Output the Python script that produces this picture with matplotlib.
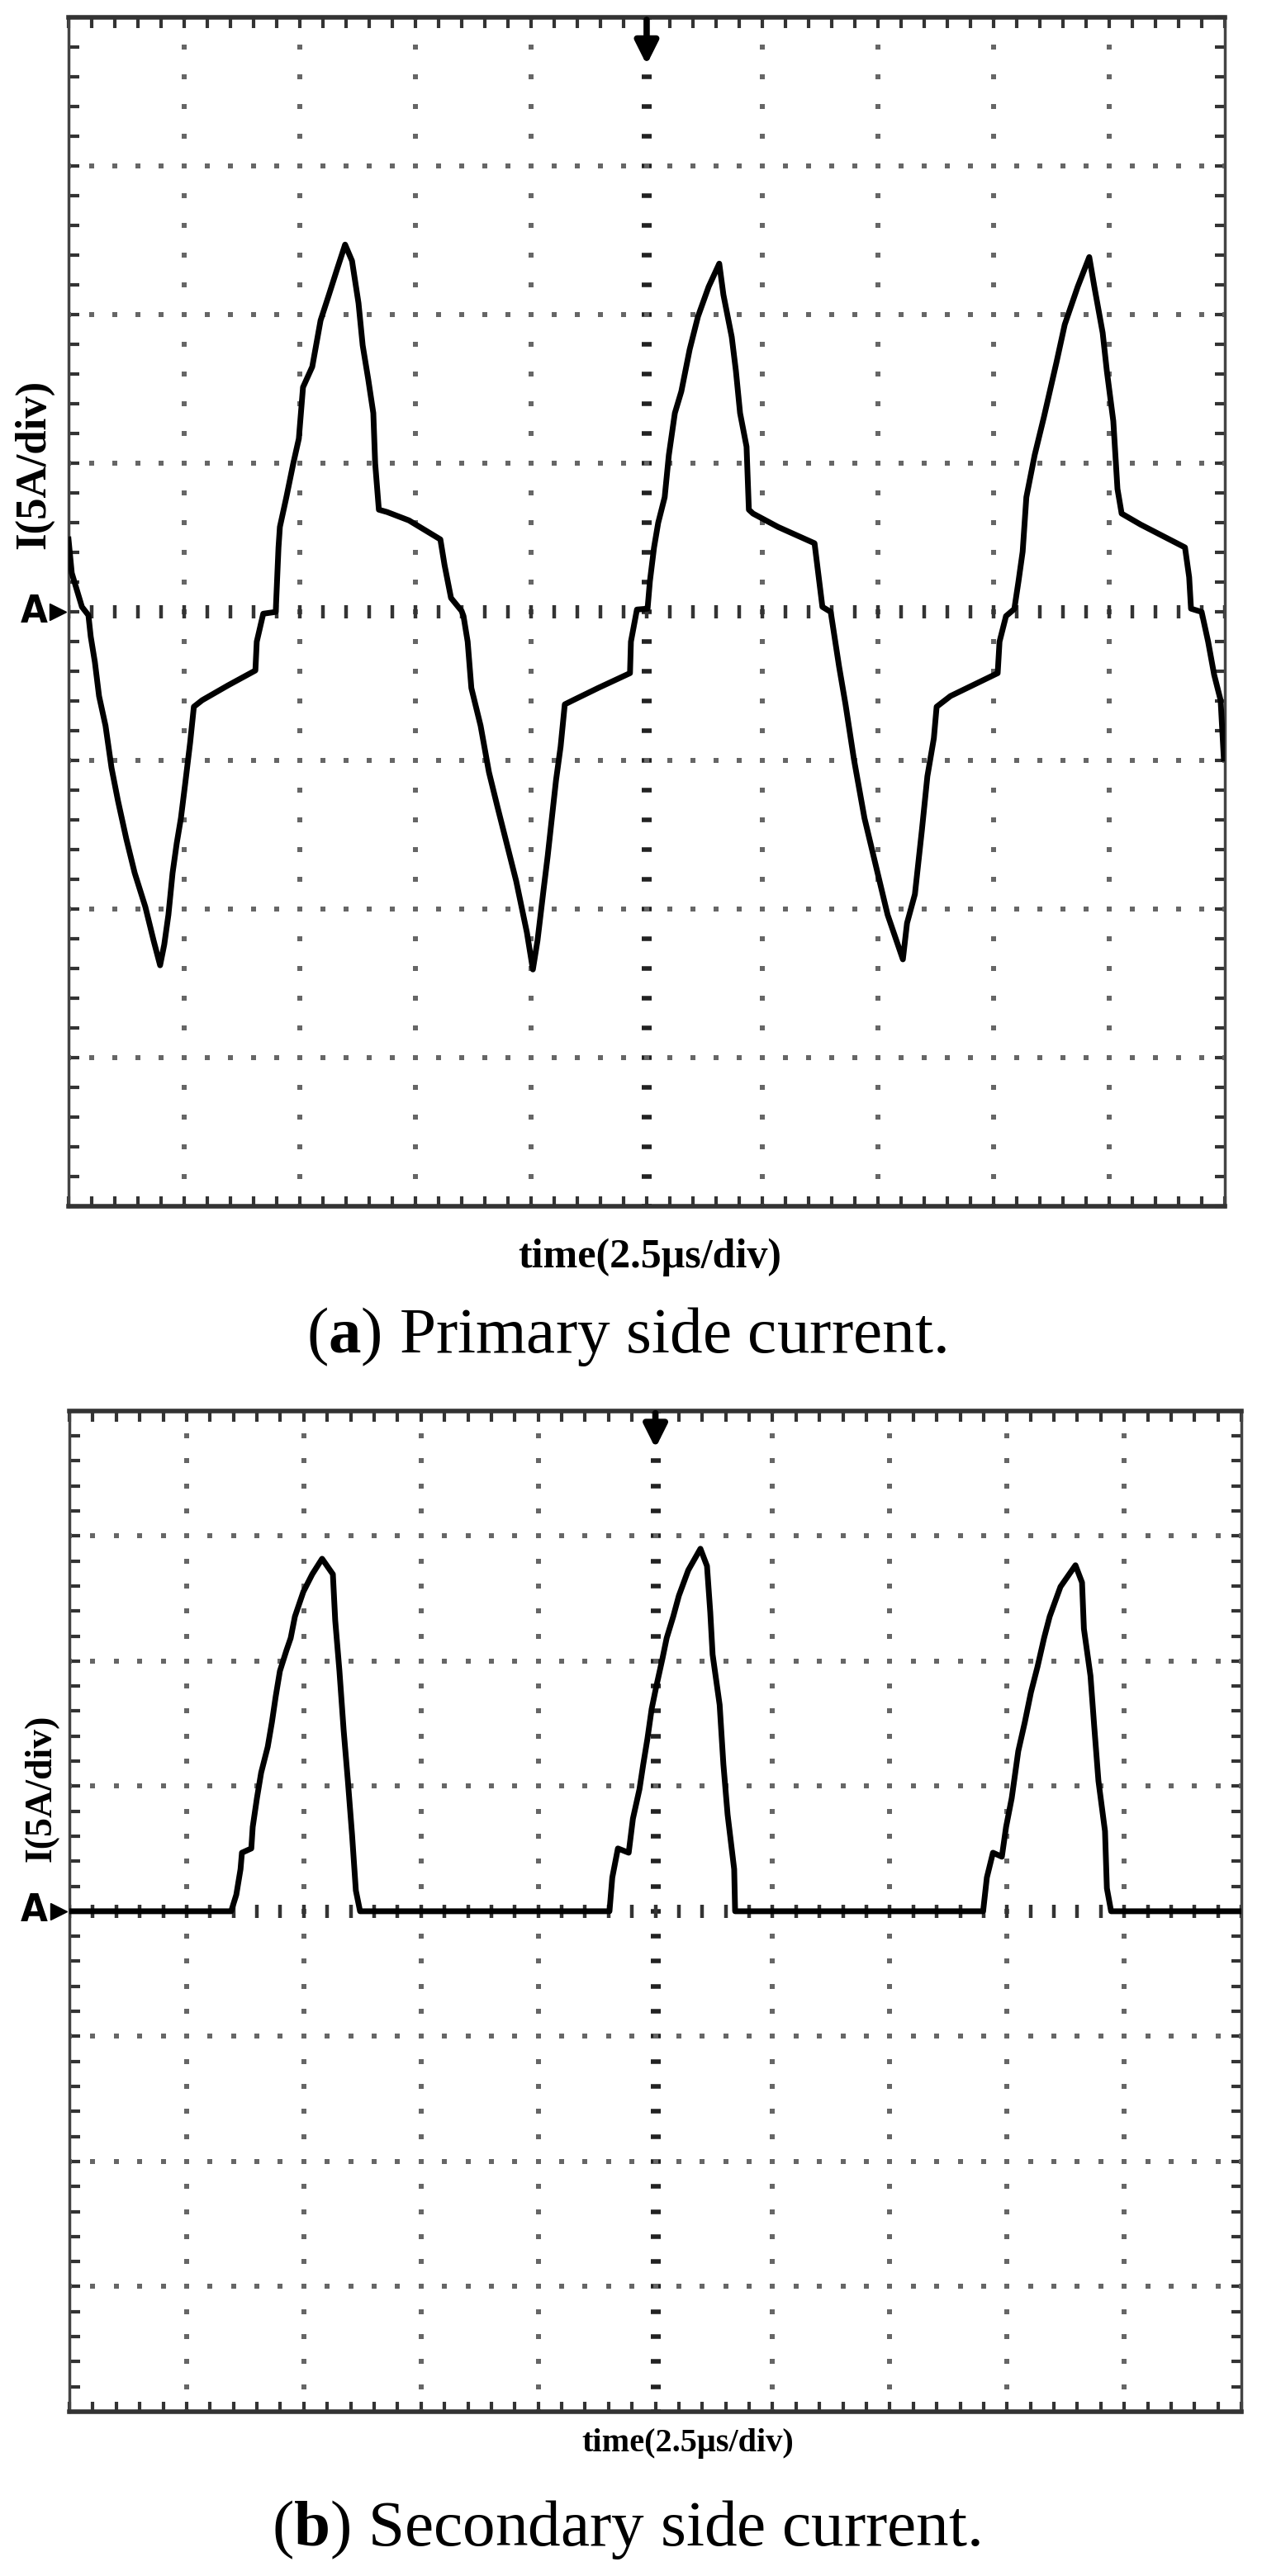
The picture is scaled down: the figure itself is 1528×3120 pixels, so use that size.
import matplotlib.pyplot as plt
import numpy as np

# (a) primary side current: time in us, current in A
t_primary = [0.0, 0.07, 0.29, 0.43, 0.48, 0.57, 0.66, 0.80, 0.93, 1.07, 1.25, 1.43, 1.66, 1.84, 1.98,
             2.07, 2.16, 2.25, 2.34, 2.43, 2.52, 2.63, 2.71, 2.89, 3.45, 4.04, 4.07, 4.21, 4.48,
             4.54, 4.57, 4.71, 4.86, 4.98, 5.07, 5.27, 5.45, 5.63, 5.80, 5.98,
             6.13, 6.27, 6.36, 6.48, 6.59, 6.63, 6.71, 6.89, 7.36, 8.04, 8.13, 8.27, 8.50,
             8.54, 8.63, 8.71, 8.91, 9.09, 9.27, 9.45, 9.68, 9.91, 10.04,
             10.14, 10.27, 10.36, 10.45, 10.54, 10.64, 10.73, 10.91, 11.45, 12.14, 12.16, 12.29, 12.52,
             12.57, 12.66, 12.75, 12.89, 12.98, 13.11, 13.25, 13.43, 13.61, 13.84, 14.07,
             14.16, 14.34, 14.43, 14.52, 14.66, 14.71, 14.80, 15.34, 16.13, 16.21, 16.30, 16.48,
             16.66, 16.80, 16.98, 17.21, 17.45, 17.71, 18.04,
             18.13, 18.30, 18.45, 18.57, 18.71, 18.77, 19.07, 20.09, 20.13, 20.27, 20.45,
             20.54, 20.63, 20.71, 20.89, 21.09, 21.36, 21.54, 21.82, 22.07,
             22.18, 22.36, 22.45, 22.59, 22.68, 22.77, 23.18, 24.14, 24.23, 24.27, 24.50,
             24.64, 24.77, 24.91, 24.98]
i_primary = [2.44, 1.31, 0.17, -0.11, -0.83, -1.69, -2.83, -3.83, -5.25, -6.36, -7.64, -8.78, -9.92, -11.06, -11.89,
             -11.19, -10.19, -8.78, -7.78, -6.94, -5.81, -4.39, -3.19, -2.97, -2.47, -1.97, -1.00, -0.06, 0.0,
             2.17, 2.86, 3.86, 5.0, 5.83, 7.56, 8.25, 9.81, 10.67, 11.5, 12.36,
             11.81, 10.39, 8.97, 7.83, 6.69, 5.0, 3.44, 3.36, 3.08, 2.44, 1.58, 0.47, 0.03,
             -0.14, -1.0, -2.56, -3.83, -5.39, -6.53, -7.64, -9.06, -10.78, -12.03,
             -11.06, -9.36, -8.22, -6.94, -5.67, -4.53, -3.11, -2.97, -2.56, -2.06, -1.0, 0.08, 0.11,
             1.03, 2.17, 3.0, 3.86, 5.28, 6.69, 7.42, 8.83, 9.94, 10.94, 11.72,
             10.67, 9.25, 8.11, 6.69, 5.56, 3.44, 3.31, 2.86, 2.31, 1.31, 0.17, 0.0,
             -1.83, -3.11, -4.94, -6.94, -8.5, -10.19, -11.69,
             -10.47, -9.5, -7.36, -5.53, -4.25, -3.19, -2.83, -2.06, -1.0, -0.14, 0.1,
             1.03, 2.03, 3.86, 5.28, 6.56, 8.39, 9.67, 10.94, 11.94,
             10.94, 9.39, 8.11, 6.42, 4.14, 3.31, 2.94, 2.17, 1.17, 0.11, 0.0,
             -1.0, -2.11, -2.97, -4.94]

# (b) secondary side current
t_secondary = [0.0, 3.45, 3.56, 3.65, 3.68, 3.88, 3.91, 4.00, 4.09, 4.23, 4.32, 4.40, 4.49, 4.63, 4.72,
               4.81, 4.99, 5.18, 5.39, 5.62, 5.67, 5.76, 5.85, 5.94, 6.03, 6.11, 6.20,
               11.52, 11.58, 11.70, 11.93, 12.02, 12.16, 12.24, 12.33, 12.42, 12.51, 12.65, 12.74,
               12.88, 13.00, 13.20, 13.46, 13.60, 13.67, 13.72, 13.87, 13.95, 14.04, 14.18, 14.20,
               19.49, 19.57, 19.70, 19.89, 19.98, 20.10, 20.24, 20.38, 20.51, 20.65, 20.79, 20.91,
               21.14, 21.46, 21.60, 21.64, 21.78, 21.86, 21.95, 22.09, 22.13, 22.22, 25.0]
i_secondary = [0.0, 0.0, 0.66, 1.68, 2.34, 2.51, 3.37, 4.52, 5.54, 6.57, 7.56, 8.58, 9.60, 10.43, 10.92,
               11.78, 12.77, 13.47, 14.09, 13.47, 11.62, 9.60, 7.23, 5.21, 3.04, 0.83, 0.0,
               0.0, 1.35, 2.51, 2.34, 3.70, 4.88, 5.87, 6.90, 8.09, 8.91, 10.10, 10.92,
               11.78, 12.61, 13.63, 14.49, 13.80, 11.95, 10.26, 8.25, 5.87, 3.86, 1.68, 0.0,
               0.0, 1.35, 2.34, 2.18, 3.37, 4.52, 6.40, 7.56, 8.75, 9.77, 10.92, 11.78,
               12.97, 13.83, 13.14, 11.29, 9.41, 7.39, 5.21, 3.20, 0.92, 0.0, 0.0]

time_per_div = 2.5
amp_per_div = 5

fig = plt.figure(figsize=(15.28, 31.2), dpi=100)
ax1 = fig.add_axes([0.0543, 0.5317, 0.9162, 0.4615])
ax2 = fig.add_axes([0.0550, 0.0638, 0.9287, 0.3885])


def scope_screen(ax, arrow_len):
    ax.set_xlim(0, 10 * time_per_div)
    ax.set_ylim(-4 * amp_per_div, 4 * amp_per_div)
    sub_x = np.arange(0, 10 * time_per_div + 0.01, time_per_div / 5)
    sub_y = np.arange(-4 * amp_per_div, 4 * amp_per_div + 0.01, amp_per_div / 5)

    # dotted graticule
    for xv in np.arange(1, 10) * time_per_div:
        if xv == 5 * time_per_div:
            ax.plot([xv] * len(sub_y), sub_y, ls='none', marker='_', ms=8, mew=4, color='#222')
        else:
            ax.plot([xv] * len(sub_y), sub_y, ls='none', marker='s', ms=4.2, mew=0, color='#666')
    for yv in np.arange(-3, 4) * amp_per_div:
        if yv == 0:
            ax.plot(sub_x, [yv] * len(sub_x), ls='none', marker='|', ms=11, mew=3.2, color='#333')
        else:
            ax.plot(sub_x, [yv] * len(sub_x), ls='none', marker='s', ms=4.2, mew=0, color='#666')

    ax.set_xticks(sub_x)
    ax.set_yticks(sub_y)
    ax.tick_params(direction='in', length=9, width=3, color='#333',
                   top=True, bottom=True, left=True, right=True,
                   labelbottom=False, labelleft=False)
    for side in ['top', 'bottom']:
        ax.spines[side].set_linewidth(4)
        ax.spines[side].set_color('#333')
    for side in ['left', 'right']:
        ax.spines[side].set_linewidth(2.5)
        ax.spines[side].set_color('#444')

    # trigger arrow and channel marker
    ax.annotate('', xy=(0.5, 1 - arrow_len), xytext=(0.5, 1.0), xycoords='axes fraction',
                arrowprops=dict(arrowstyle='-|>', lw=5.5, color='black', mutation_scale=42))
    ax.plot([-0.0095], [0], marker='>', ms=15, color='black', clip_on=False,
            transform=ax.get_yaxis_transform())
    ax.text(-0.03, 0, 'A', transform=ax.get_yaxis_transform(), ha='center', va='center',
            fontsize=34, fontweight='bold', fontfamily='DejaVu Sans', fontstretch='condensed')


scope_screen(ax1, 60 / 1440)
scope_screen(ax2, 48 / 1212)

ax1.plot(t_primary, i_primary, color='black', lw=5, solid_joinstyle='round', zorder=5)
ax2.plot(t_secondary, i_secondary, color='black', lw=5, solid_joinstyle='round', zorder=5)

lab = dict(fontfamily='Liberation Serif', fontweight='bold', ha='center', va='center')
fig.text(41 / 1528, 1 - 562 / 3120, 'I(5A/div)', rotation=90, fontsize=38, **lab)
fig.text(787 / 1528, 1 - 1523 / 3120, 'time(2.5μs/div)', fontsize=36, **lab)
fig.text(50 / 1528, 1 - 2166 / 3120, 'I(5A/div)', rotation=90, fontsize=33, **lab)
fig.text(833 / 1528, 1 - 2960 / 3120, 'time(2.5μs/div)', fontsize=29, **lab)

plt.rcParams['mathtext.fontset'] = 'custom'
plt.rcParams['mathtext.rm'] = 'Liberation Serif'
plt.rcParams['mathtext.bf'] = 'Liberation Serif:bold'
fig.text(758 / 1528, 1 - 1619 / 3120, r'($\mathbf{a}$) Primary side current.', fontsize=57,
         fontfamily='Liberation Serif', ha='center', va='center')
fig.text(758 / 1528, 1 - 3064 / 3120, r'($\mathbf{b}$) Secondary side current.', fontsize=57,
         fontfamily='Liberation Serif', ha='center', va='center')

fig.savefig('out.png', dpi=100)
